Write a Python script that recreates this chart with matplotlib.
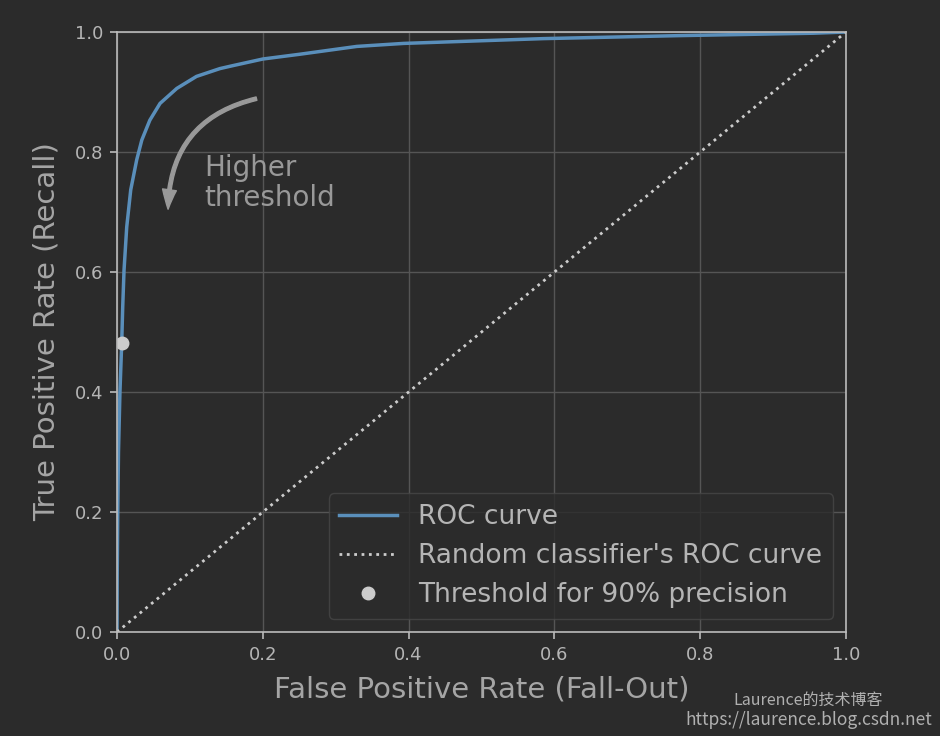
import matplotlib
matplotlib.use("Agg")
import matplotlib.pyplot as plt
import matplotlib.patches as patches

plt.rcParams['font.family'] = ['DejaVu Sans']

# ROC curve points
fpr = [0.0, 0.0003, 0.001, 0.002, 0.004, 0.0064, 0.0078, 0.0096, 0.0133, 0.0188,
       0.027, 0.034, 0.045, 0.059, 0.082, 0.109, 0.141, 0.159, 0.2, 0.251, 0.329,
       0.393, 0.585, 0.772, 0.955, 1.0]
tpr = [0.0, 0.1, 0.2, 0.3, 0.4, 0.481, 0.542, 0.603, 0.675, 0.737,
       0.787, 0.82, 0.853, 0.881, 0.906, 0.926, 0.939, 0.944, 0.955, 0.963, 0.976,
       0.981, 0.989, 0.994, 0.998, 1.0]
random_x = [0.0, 1.0]
random_y = [0.0, 1.0]
fpr_90 = [0.0064]
tpr_90 = [0.481]
xticks = [0.0, 0.2, 0.4, 0.6, 0.8, 1.0]
yticks = [0.0, 0.2, 0.4, 0.6, 0.8, 1.0]

BG = "#2b2b2b"
TXT = "#a5a5a5"

fig = plt.figure(figsize=(9.4, 7.36), dpi=100, facecolor=BG)
ax = fig.add_axes([0.1245, 0.1413, 0.7755, 0.8152], facecolor=BG)

ax.plot(fpr, tpr, linewidth=2.5, color="#5a8fbb", label="ROC curve")
ax.plot(random_x, random_y, linestyle=":", linewidth=2, color="#cccccc",
        label="Random classifier's ROC curve")
ax.plot(fpr_90, tpr_90, "o", color="#cccccc", markersize=9,
        label="Threshold for 90% precision")

ax.add_patch(patches.FancyArrowPatch((0.195, 0.89), (0.07, 0.70),
             connectionstyle="arc3,rad=.4",
             arrowstyle="Simple, tail_width=2.5, head_width=10, head_length=14",
             color="#999999"))
ax.text(0.12, 0.71, "Higher\nthreshold", color="#999999", fontsize=20,
        linespacing=1.1)

ax.set_xlim(0, 1)
ax.set_ylim(0, 1)
ax.set_xticks(xticks)
ax.set_yticks(yticks)
ax.set_xticklabels([f"{t:.1f}" for t in xticks])
ax.set_yticklabels([f"{t:.1f}" for t in yticks])
ax.tick_params(colors="#bbbbbb", labelcolor="#b5b5b5", labelsize=13, length=5,
               width=1.2, pad=5)
for s in ax.spines.values():
    s.set_color("#bbbbbb")
    s.set_linewidth(1.2)
ax.grid(True, color="#555555", linewidth=1)
ax.set_axisbelow(True)

ax.set_xlabel("False Positive Rate (Fall-Out)", fontsize=21, color=TXT, labelpad=8)
ax.set_ylabel("True Positive Rate (Recall)", fontsize=21, color=TXT, labelpad=10)

leg = ax.legend(loc="lower right", fontsize=19, facecolor=BG, edgecolor="#474747",
                framealpha=0.8, labelcolor="#b5b5b5", labelspacing=0.5,
                handlelength=2.2)

fig.text(0.86, 0.049, "Laurence的技术博客", fontsize=11.5, color="#b0b0b0",
         ha="center", va="center", family=["Noto Sans CJK SC", "DejaVu Sans"])
fig.text(0.9915, 0.022, "https://laurence.blog.csdn.net", fontsize=12.5, color="#b0b0b0",
         ha="right", va="center", family=["Noto Sans CJK SC", "DejaVu Sans"])

fig.savefig("out.png", dpi=100, facecolor=BG)
